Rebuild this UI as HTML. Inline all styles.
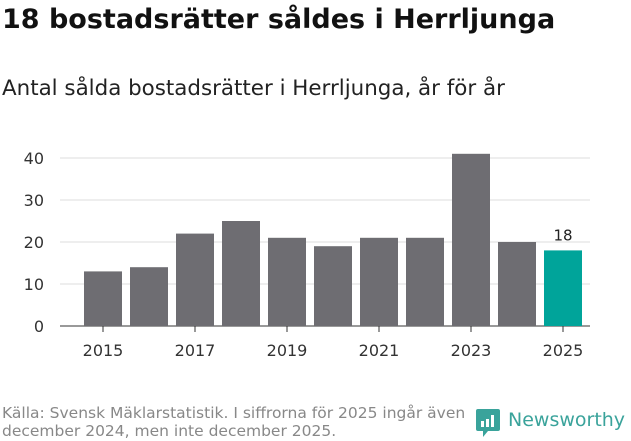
<!DOCTYPE html>
<html><head><meta charset="utf-8"><style>
body{margin:0;width:631px;height:439px;background:#fff;font-family:"DejaVu Sans","Liberation Sans",sans-serif;overflow:hidden;position:relative}
.t{position:absolute;white-space:nowrap}
</style></head><body>
<div class="t" style="left:2px;top:4px;font-size:27px;font-weight:bold;color:#111">18 bostadsrätter såldes i Herrljunga</div>
<div class="t" style="left:2px;top:76px;font-size:21.4px;color:#222">Antal sålda bostadsrätter i Herrljunga, år för år</div>
<svg id="c" width="631" height="439" style="position:absolute;left:0;top:0"></svg>
<div class="t" style="left:2px;top:404px;font-size:15.5px;line-height:18px;color:#888">Källa: Svensk Mäklarstatistik. I siffrorna för 2025 ingår även<br>december 2024, men inte december 2025.</div>
<div style="position:absolute;left:476px;top:409px">
<svg width="24" height="28" viewBox="0 0 24 28"><path d="M2 0h20a2 2 0 0 1 2 2v18a2 2 0 0 1-2 2H12l-5 6v-6H2a2 2 0 0 1-2-2V2a2 2 0 0 1 2-2z" fill="#3aa39b"/><rect x="5" y="12" width="3" height="6" fill="#fff"/><rect x="10" y="10" width="3" height="8" fill="#fff"/><rect x="15" y="6" width="3" height="12" fill="#fff"/></svg>
<span style="position:absolute;left:32px;top:0px;font-size:19px;color:#3aa39b">Newsworthy</span></div>
<script>
const years=[2015,2016,2017,2018,2019,2020,2021,2022,2023,2024,2025];
const values=[13,14,22,25,21,19,21,21,41,20,18];
const yTicks=[0,10,20,30,40];
const xLabels=[2015,2017,2019,2021,2023,2025];
const ns="http://www.w3.org/2000/svg",svg=document.getElementById('c');
const y=v=>326-v*4.2, x=i=>103+i*46;
function el(t,a){const e=document.createElementNS(ns,t);for(const k in a)e.setAttribute(k,a[k]);svg.appendChild(e);return e;}
yTicks.forEach(v=>{
 const g=el('line',{x1:60,x2:590,y1:y(v),y2:y(v),stroke:v?'#ddd':'#333','stroke-width':1});
 
 
 const t=el('text',{x:44,y:y(v)+6,'text-anchor':'end','font-size':16,fill:'#333'});t.textContent=v;
 
 
});
values.forEach((v,i)=>{
 const last=i===values.length-1;
 const r=el('rect',{x:x(i)-19,y:y(v),width:38,height:y(0)-y(v),fill:last?'#00a49a':'#6e6d72'});
 
 
 if(last){const t=el('text',{x:x(i),y:y(v)-10,'text-anchor':'middle','font-size':15,fill:'#222'});t.textContent=v;
  
  }
});
xLabels.forEach(yr=>{
 const i=years.indexOf(yr);
 el('line',{x1:x(i),x2:x(i),y1:326,y2:332,stroke:'#333'});
 const t=el('text',{x:x(i),y:356,'text-anchor':'middle','font-size':16,fill:'#333'});t.textContent=yr;
 
 
});
</script>
</body></html>
